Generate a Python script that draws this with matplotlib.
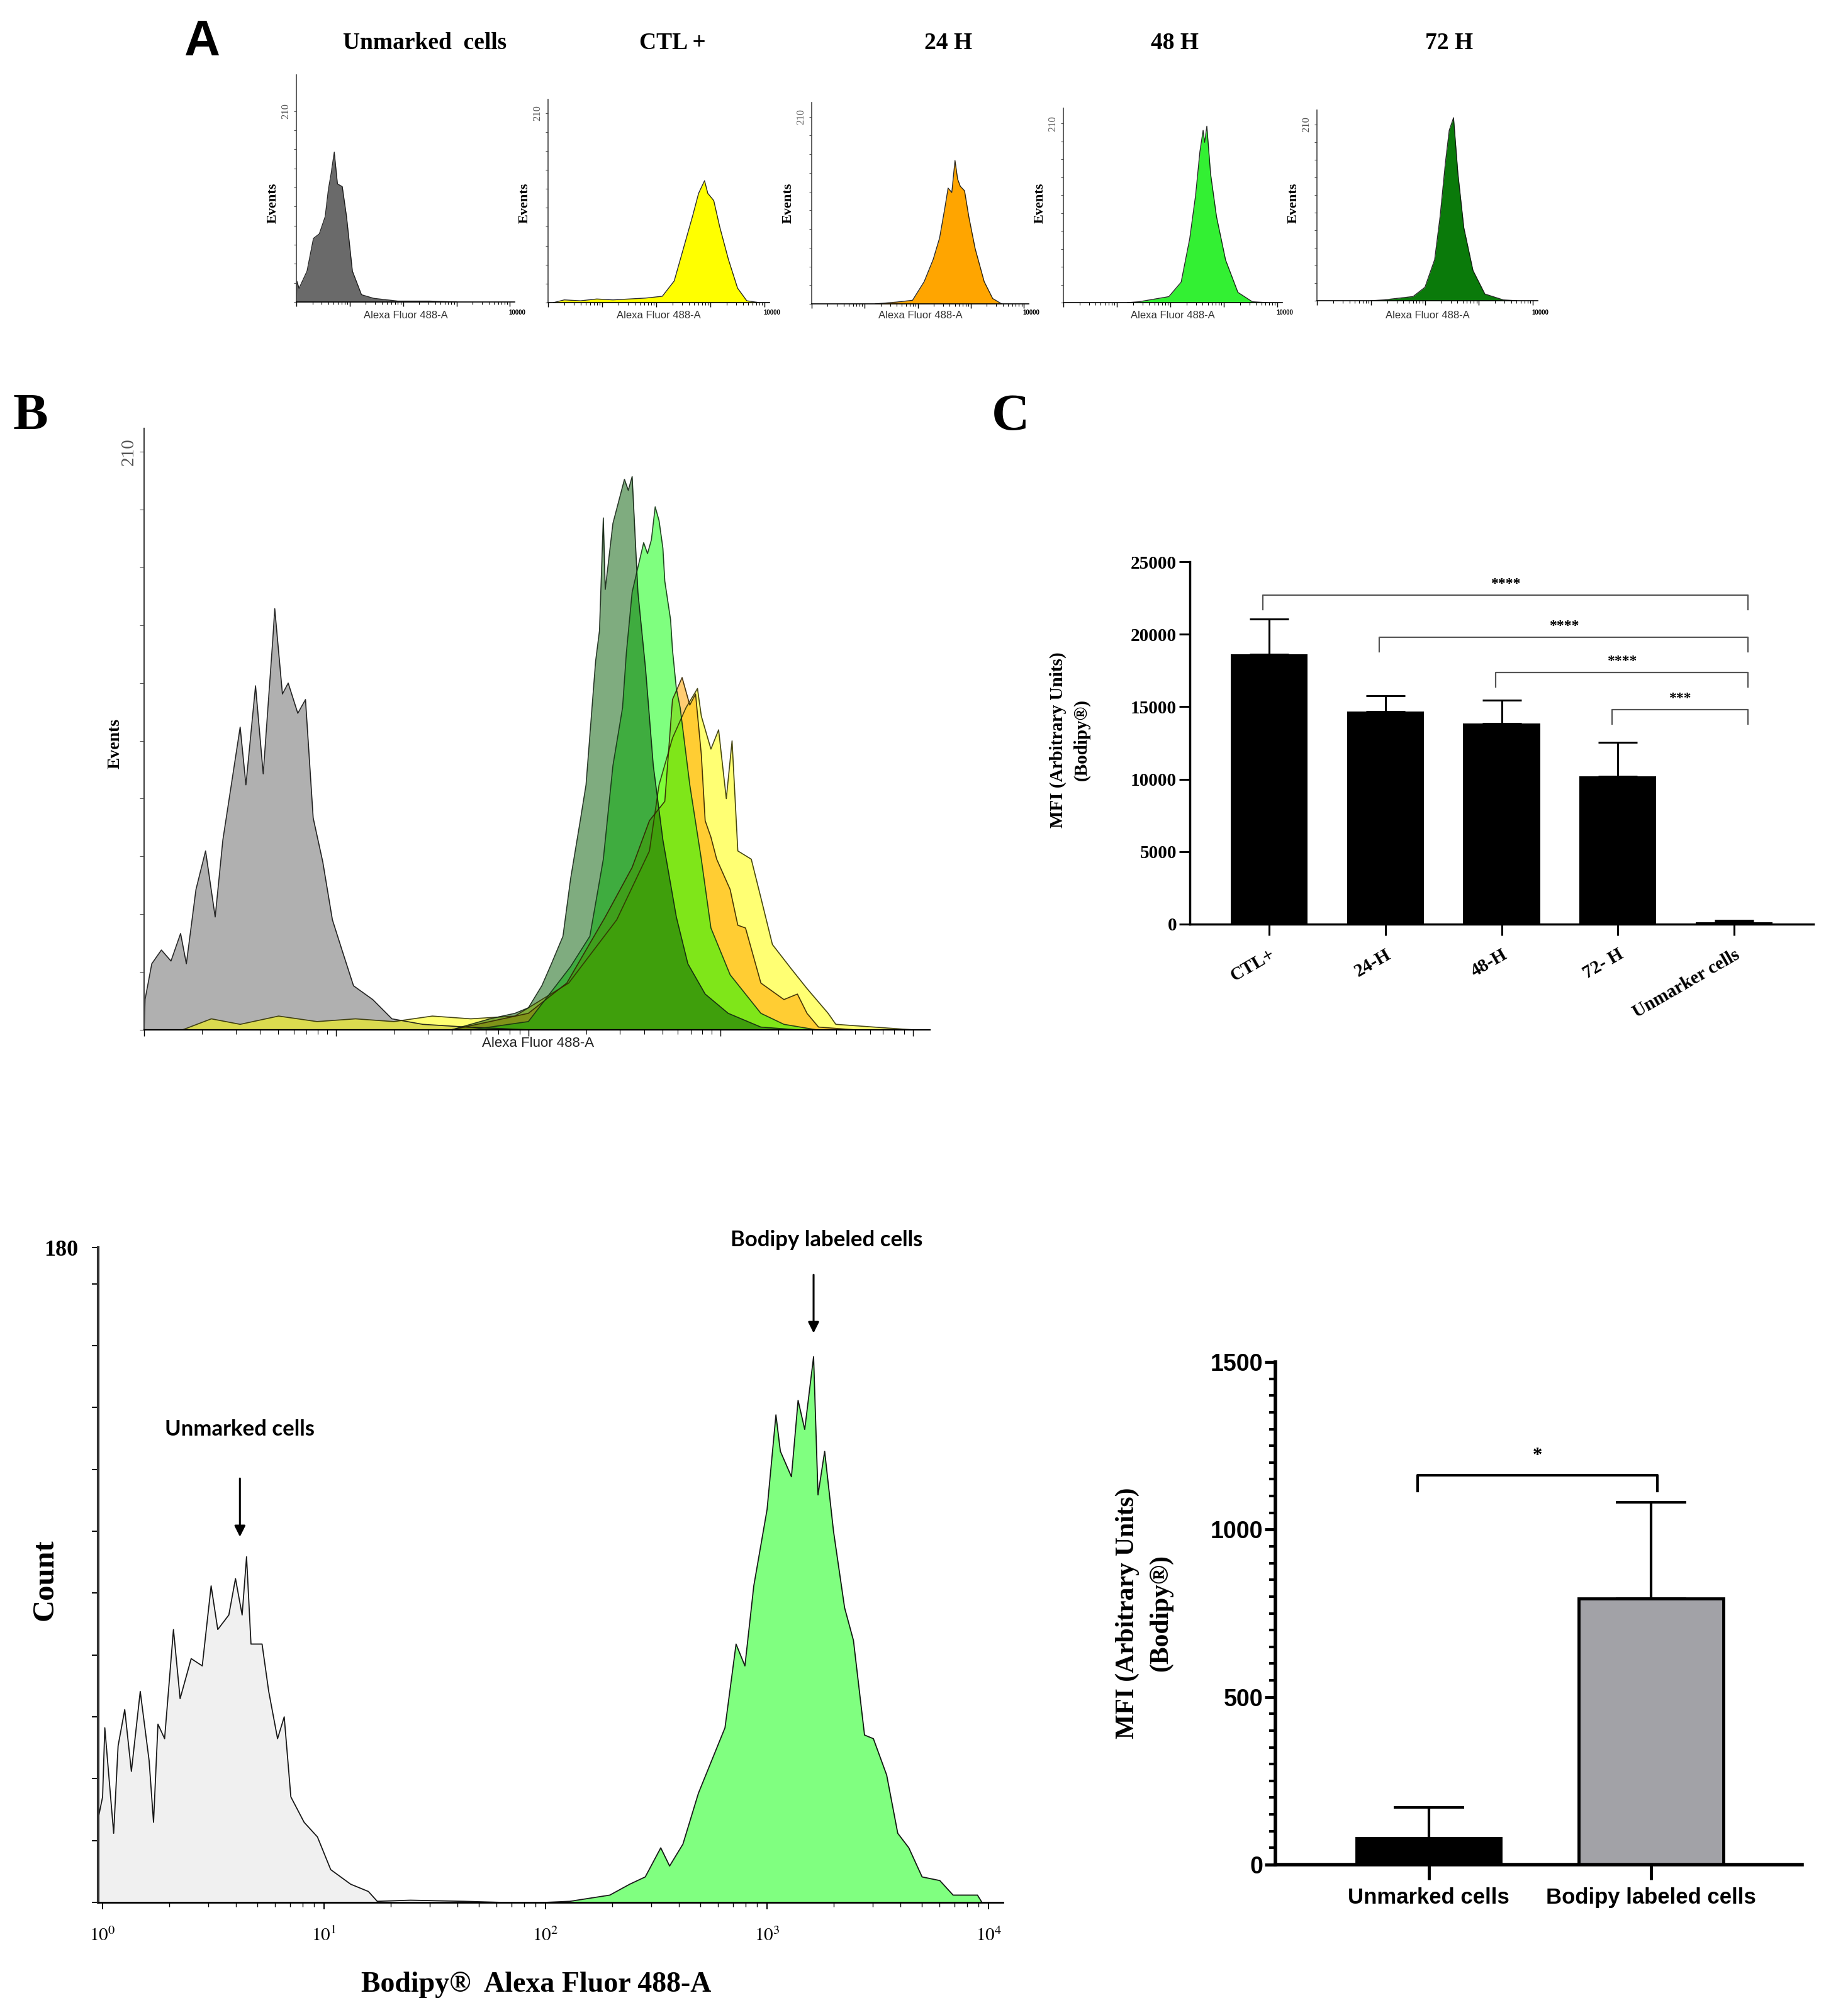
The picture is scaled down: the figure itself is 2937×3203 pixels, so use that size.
import numpy as np
import matplotlib
matplotlib.use('Agg')
import matplotlib.pyplot as plt
from matplotlib.ticker import LogLocator, NullFormatter, MultipleLocator

plt.rcParams['mathtext.fontset'] = 'stix'
SERIF = 'Liberation Serif'
SANS = 'Liberation Sans'

# ======================= DATA =======================
# Panel A: five single histograms (x = log10 fluorescence, y = events)
A_titles = ['Unmarked  cells', 'CTL +', '24 H', '48 H', '72 H']
A_colors = ['#6a6a6a', '#ffff00', '#ffa500', '#33f033', '#0a7a0a']
A_unm_x = [0.0, 0.01, 0.05, 0.09, 0.2, 0.32, 0.43, 0.54, 0.6, 0.65, 0.71, 0.77, 0.86, 0.94, 1.05, 1.22, 1.45, 1.9, 2.5, 3.0]
A_unm_y = [0, 23, 15, 20, 34, 70, 75, 94, 124, 141, 165, 130, 127, 94, 34, 8, 4, 1, 1, 0]
A_ctl_x = [0.1, 0.3, 0.6, 0.9, 1.2, 1.5, 1.8, 2.11, 2.33, 2.5, 2.67, 2.78, 2.89, 2.95, 3.06, 3.17, 3.33, 3.5, 3.67, 3.9]
A_ctl_y = [0, 3, 2, 4, 3, 4, 5, 7, 24, 60, 96, 121, 135, 121, 113, 84, 48, 16, 2, 0]
A_24_x = [1.2, 1.6, 1.9, 2.12, 2.29, 2.41, 2.51, 2.57, 2.64, 2.70, 2.75, 2.80, 2.88, 2.96, 3.08, 3.25, 3.41, 3.58]
A_24_y = [0, 2, 4, 25, 50, 74, 108, 130, 125, 161, 140, 132, 127, 98, 62, 25, 6, 0]
A_48_x = [1.2, 1.41, 1.97, 2.20, 2.36, 2.47, 2.55, 2.61, 2.64, 2.68, 2.75, 2.86, 3.03, 3.26, 3.53, 3.8]
A_48_y = [0, 1, 7, 24, 75, 126, 177, 202, 188, 207, 151, 101, 50, 12, 1, 0]
A_72_x = [1.0, 1.24, 1.78, 2.0, 2.18, 2.28, 2.38, 2.45, 2.53, 2.61, 2.72, 2.89, 3.11, 3.45, 3.7]
A_72_y = [0, 1, 5, 16, 49, 100, 165, 203, 218, 152, 87, 36, 8, 1, 0]

# Panel B: overlay of the five histograms
B_unm_x = [0.0, 0.005, 0.04, 0.09, 0.14, 0.19, 0.22, 0.27, 0.32, 0.37, 0.41, 0.50, 0.53, 0.58, 0.62, 0.67, 0.68, 0.72,
           0.75, 0.80, 0.84, 0.88, 0.93, 0.98, 1.03, 1.09, 1.19, 1.29, 1.45, 1.68, 2.0]
B_unm_y = [0, 11, 24, 29, 25, 35, 24, 51, 65, 41, 69, 110, 89, 125, 93, 142, 153, 122,
           126, 115, 120, 77, 61, 40, 29, 16, 11, 4, 2, 1, 0]
B_ctl_x = [0.2, 0.35, 0.5, 0.7, 0.9, 1.1, 1.3, 1.5, 1.7, 1.93, 2.21, 2.46, 2.63, 2.68, 2.75, 2.82, 2.88, 2.90, 2.95,
           2.99, 3.03, 3.06, 3.09, 3.16, 3.21, 3.27, 3.37, 3.45, 3.56, 3.60, 3.8, 4.0]
B_ctl_y = [0, 4, 2, 5, 3, 4, 3, 5, 4, 5, 17, 40, 65, 89, 106, 117, 124, 114, 102,
           109, 84, 105, 65, 62, 48, 31, 22, 15, 6, 2, 1, 0]
B_24_x = [1.6, 1.8, 2.0, 2.20, 2.40, 2.54, 2.63, 2.71, 2.75, 2.80, 2.84, 2.87, 2.90, 2.92, 2.95, 2.98, 3.05, 3.09,
          3.13, 3.21, 3.33, 3.40, 3.45, 3.51, 3.7]
B_24_y = [0, 3, 6, 17, 41, 59, 76, 83, 120, 128, 118, 122, 100, 76, 70, 62, 51, 38,
          37, 17, 11, 13, 6, 1, 0]
B_48_x = [1.7, 2.00, 2.22, 2.32, 2.39, 2.44, 2.49, 2.51, 2.54, 2.57, 2.60, 2.62, 2.64, 2.66, 2.68, 2.70, 2.71, 2.74,
          2.75, 2.77, 2.79, 2.84, 2.90, 2.95, 3.05, 3.21, 3.33, 3.5]
B_48_y = [0, 3, 23, 34, 62, 96, 117, 137, 159, 168, 177, 173, 178, 190, 185, 175, 163, 149,
          138, 124, 117, 89, 62, 37, 20, 6, 2, 0]
B_72_x = [1.6, 1.8, 1.93, 2.00, 2.07, 2.12, 2.18, 2.22, 2.27, 2.30, 2.35, 2.37, 2.39, 2.40, 2.44, 2.47, 2.50, 2.52,
          2.54, 2.57, 2.61, 2.65, 2.70, 2.77, 2.83, 2.92, 3.04, 3.21, 3.4]
B_72_y = [0, 4, 6, 8, 16, 24, 34, 55, 76, 89, 134, 145, 186, 160, 184, 192, 200, 196,
          201, 159, 131, 96, 69, 41, 24, 13, 6, 1, 0]

# Panel C: MFI bars
C_cats = ['CTL+', '24-H', '48-H', '72- H', 'Unmarker cells']
C_mean = [18600, 14650, 13850, 10200, 150]
C_err = [2450, 1100, 1600, 2350, 100]
C_sig_left = [0, 1, 2, 3]
C_sig_y = [22700, 19800, 17350, 14800]
C_sig_txt = ['****', '****', '****', '***']

# Bottom-left: Count histogram
L_unm_x = [-0.02, -0.02, 0.0, 0.01, 0.05, 0.07, 0.10, 0.13, 0.17, 0.21, 0.23, 0.25, 0.28, 0.32, 0.35, 0.40, 0.45, 0.49,
           0.52, 0.57, 0.60, 0.63, 0.65, 0.67, 0.72, 0.75, 0.79, 0.82, 0.85, 0.91, 0.97, 1.03, 1.12, 1.20, 1.24, 1.39,
           1.63, 1.8]
L_unm_y = [0, 23, 29, 48, 19, 43, 53, 36, 58, 39, 22, 49, 45, 75, 56, 67, 65, 87,
           75, 79, 89, 79, 95, 71, 71, 58, 45, 51, 29, 22, 18, 9, 5, 3, 0.3, 0.6,
           0.3, 0]
L_lab_x = [2.0, 2.11, 2.29, 2.38, 2.45, 2.52, 2.56, 2.62, 2.69, 2.75, 2.81, 2.86, 2.90, 2.94, 3.00, 3.04, 3.06, 3.11,
           3.14, 3.17, 3.21, 3.23, 3.26, 3.30, 3.35, 3.39, 3.44, 3.48, 3.54, 3.59, 3.64, 3.70, 3.78, 3.84, 3.95, 3.97]
L_lab_y = [0, 0.3, 2, 5, 7, 15, 10, 16, 30, 39, 48, 71, 65, 87, 108, 134, 124, 117,
           138, 130, 150, 112, 124, 102, 81, 72, 46, 45, 35, 19, 15, 7, 6, 2, 2, 0]
L_ann_txt = ['Unmarked cells', 'Bodipy labeled cells']
L_ann_x = [0.62, 3.21]          # log10 position of the arrows
L_ann_tip = [100, 156]
L_ann_tail = [117, 173]
L_ann_label = [130, 182]

# Bottom-right: MFI bars
R_cats = ['Unmarked cells', 'Bodipy labeled cells']
R_mean = [78, 795]
R_err = [93, 287]
R_colors = ['#000000', '#a2a2a7']
R_sig_y = 1162
R_sig_txt = '*'

# ======================= FIGURE =======================
W, H = 2937, 3203
fig = plt.figure(figsize=(W / 100, H / 100), dpi=100)


def add_ax(x0, y0, x1, y1):
    return fig.add_axes([x0 / W, 1 - y1 / H, (x1 - x0) / W, (y1 - y0) / H])


def ftext(x, y, s, **kw):
    fig.text(x / W, 1 - y / H, s, **kw)


def flow_style(ax, ytop, xmax_dec, lw=1.2, lab_size=13, tick_len=4):
    ax.set_xscale('log')
    ax.set_xlim(1, 10 ** xmax_dec)
    ax.set_ylim(0, ytop)
    for s in ['top', 'right']:
        ax.spines[s].set_visible(False)
    ax.spines['left'].set_color('#444444')
    ax.spines['left'].set_linewidth(lw)
    ax.spines['bottom'].set_linewidth(lw)
    ax.xaxis.set_major_locator(LogLocator(base=10, numticks=10))
    ax.xaxis.set_minor_locator(LogLocator(base=10, subs=np.arange(2, 10), numticks=50))
    ax.xaxis.set_major_formatter(NullFormatter())
    ax.xaxis.set_minor_formatter(NullFormatter())
    ax.tick_params(axis='x', which='major', length=tick_len + 2, width=1, direction='out')
    ax.tick_params(axis='x', which='minor', length=tick_len, width=0.8, direction='out')
    yt = list(range(0, 211, 21))
    ax.set_yticks(yt)
    ax.set_yticklabels(['' if v != 210 else '210' for v in yt], rotation=90, va='center',
                       fontsize=lab_size, family=SERIF, color='#555555')
    ax.tick_params(axis='y', length=tick_len, width=0.8, color='#555555', pad=3)
    ax.patch.set_alpha(0)


def draw_hist(ax, xs, ys, color, alpha=1.0, lw=1.0, ec='#111111'):
    xv = 10 ** np.asarray(xs, dtype=float)
    yv = np.asarray(ys, dtype=float)
    ax.fill_between(xv, yv, 0, color=color, alpha=alpha, lw=0)
    ax.plot(xv, yv, color=ec, lw=lw, alpha=0.9)


# ----------------- Panel A -----------------
ftext(321, 67, 'A', family=SANS, weight='bold', fontsize=57, ha='center', va='center')
A_title_x = [675, 1069, 1507, 1867, 2303]
A_boxes = [(471, 119, 818, 480), (871, 158, 1223, 481), (1290, 163, 1635, 483),
           (1690, 172, 2038, 481), (2093, 175, 2444, 478)]
A_ytop = [250, 225, 226, 228, 227]
A_xs = [A_unm_x, A_ctl_x, A_24_x, A_48_x, A_72_x]
A_ys = [A_unm_y, A_ctl_y, A_24_y, A_48_y, A_72_y]
for i in range(5):
    ftext(A_title_x[i], 69, A_titles[i], family=SERIF, weight='bold', fontsize=27, ha='center', va='center')
    x0, y0, x1, y1 = A_boxes[i]
    ax = add_ax(x0, y0, x1, y1)
    flow_style(ax, A_ytop[i], 4.09, lw=1.2, lab_size=12, tick_len=3)
    draw_hist(ax, A_xs[i], A_ys[i], A_colors[i], lw=1.0)
    ftext(x0 - 37, 323, 'Events', family=SERIF, weight='bold', fontsize=16, rotation=90,
          ha='center', va='center')
    ftext((x0 + x1) / 2, 502, 'Alexa Fluor 488-A', family=SANS, fontsize=12, color='#333333',
          ha='center', va='center')
    ftext(x1 + 4, 497, '10000', family=SANS, fontsize=7, weight='bold', ha='center', va='center')

# ----------------- Panel B -----------------
ftext(48, 663, 'B', family=SERIF, weight='bold', fontsize=60, ha='center', va='center')
axB = add_ax(229, 681, 1478, 1637)
flow_style(axB, 218.5, 4.09, lw=1.6, lab_size=21, tick_len=5)
draw_hist(axB, B_unm_x, B_unm_y, '#b0b0b0', alpha=1.0, lw=1.2)
draw_hist(axB, B_ctl_x, B_ctl_y, '#ffff00', alpha=0.55, lw=1.2, ec='#333300')
draw_hist(axB, B_24_x, B_24_y, '#ffa500', alpha=0.55, lw=1.2, ec='#332200')
draw_hist(axB, B_48_x, B_48_y, '#00ff00', alpha=0.5, lw=1.2, ec='#113311')
draw_hist(axB, B_72_x, B_72_y, '#005a00', alpha=0.5, lw=1.2, ec='#112211')
ftext(183, 1182, 'Events', family=SERIF, weight='bold', fontsize=20, rotation=90, ha='center', va='center')
ftext(855, 1659, 'Alexa Fluor 488-A', family=SANS, fontsize=16, color='#222222', ha='center', va='center')

# ----------------- Panel C -----------------
ftext(1606, 663, 'C', family=SERIF, weight='bold', fontsize=60, ha='center', va='center')
axC = add_ax(1891, 893, 2882, 1469)
xc = np.arange(len(C_cats))
axC.bar(xc, C_mean, width=0.66, color='black', zorder=2)
axC.errorbar(xc, C_mean, yerr=[np.zeros(len(C_err)), C_err], fmt='none', ecolor='black',
             elinewidth=2.2, capsize=22, capthick=2.2, zorder=1)
axC.set_xlim(-0.68, 4.68)
axC.set_ylim(0, 25000)
axC.set_yticks(np.arange(0, 25001, 5000))
axC.set_yticklabels([str(v) for v in range(0, 25001, 5000)], family=SERIF, weight='bold', fontsize=21)
axC.set_xticks(xc)
axC.set_xticklabels(C_cats, family=SERIF, weight='bold', fontsize=21, rotation=30, ha='right',
                    va='top', rotation_mode='anchor')
for s in ['top', 'right']:
    axC.spines[s].set_visible(False)
axC.spines['left'].set_linewidth(2.5)
axC.spines['bottom'].set_linewidth(2.5)
axC.tick_params(axis='y', length=12, width=2.2, pad=3)
axC.tick_params(axis='x', length=13, width=2.2, pad=12)
leg = 1000
for li, yv, tx in zip(C_sig_left, C_sig_y, C_sig_txt):
    xl = li - 0.05
    xr = 4 + 0.12
    axC.plot([xl, xl, xr, xr], [yv - leg, yv, yv, yv - leg], color='#555555', lw=1.6, clip_on=False)
    axC.text((xl + xr) / 2, yv + 300, tx, family=SERIF, fontsize=17, weight='bold', ha='center', va='bottom')
ftext(1700, 1176, 'MFI (Arbitrary Units)\n(Bodipy®)', family=SERIF, weight='bold', fontsize=21,
      rotation=90, ha='center', va='center', multialignment='center', linespacing=1.5)

# ----------------- Bottom-left: Count histogram -----------------
axL = add_ax(156, 1983, 1594, 3024)
axL.set_xscale('log')
axL.set_xlim(10 ** -0.02, 10 ** 4.065)
axL.set_ylim(0, 180)
for s in ['top', 'right']:
    axL.spines[s].set_visible(False)
axL.spines['left'].set_linewidth(3.0)
axL.spines['left'].set_color('#333333')
axL.spines['bottom'].set_linewidth(2.0)
draw_hist(axL, L_unm_x, L_unm_y, '#f0f0f0', lw=1.3, ec='#000000')
draw_hist(axL, L_lab_x, L_lab_y, '#80ff80', lw=1.3, ec='#000000')
axL.xaxis.set_major_locator(LogLocator(base=10, numticks=10))
axL.xaxis.set_minor_locator(LogLocator(base=10, subs=np.arange(2, 10), numticks=50))
axL.xaxis.set_minor_formatter(NullFormatter())
axL.set_xticks([1, 10, 100, 1000, 10000])
axL.set_xticklabels(['$10^{0}$', '$10^{1}$', '$10^{2}$', '$10^{3}$', '$10^{4}$'], fontsize=21)
axL.tick_params(axis='x', which='major', length=8, width=1.4, pad=20)
axL.tick_params(axis='x', which='minor', length=5, width=1.0)
ytl = list(range(0, 171, 17)) + [180]
axL.set_yticks(ytl)
axL.set_yticklabels(['' if v != 180 else '180' for v in ytl], family=SERIF, weight='bold', fontsize=26)
axL.tick_params(axis='y', length=7, width=1.4, pad=16)
for t, xa, tip, tail, lab in zip(L_ann_txt, L_ann_x, L_ann_tip, L_ann_tail, L_ann_label):
    axL.annotate('', xy=(10 ** xa, tip), xytext=(10 ** xa, tail),
                 arrowprops=dict(arrowstyle='-|>', color='black', lw=2.2, mutation_scale=26),
                 annotation_clip=False)
    axL.text(10 ** (xa + (0.06 if lab > 180 else 0.0)), lab, t, family='Lato', weight='bold', fontsize=25,
             ha='center', va='center', clip_on=False)
ftext(72, 2511, 'Count', family=SERIF, weight='bold', fontsize=35, rotation=90, ha='center', va='center')
ftext(852, 3155, 'Bodipy®  Alexa Fluor 488-A', family=SERIF, weight='bold', fontsize=33,
      ha='center', va='center')

# ----------------- Bottom-right: MFI bars -----------------
axR = add_ax(2027, 2165, 2864, 2964)
xr_ = np.arange(len(R_cats))
axR.bar(xr_, R_mean, width=0.65, color=R_colors, edgecolor='black', linewidth=3.5, zorder=2)
axR.errorbar(xr_, R_mean, yerr=[np.zeros(len(R_err)), R_err], fmt='none', ecolor='black',
             elinewidth=3, capsize=40, capthick=3, zorder=1)
axR.set_xlim(-0.69, 1.68)
axR.set_ylim(0, 1500)
axR.set_yticks([0, 500, 1000, 1500])
axR.set_yticklabels(['0', '500', '1000', '1500'], family=SANS, weight='bold', fontsize=27)
axR.yaxis.set_minor_locator(MultipleLocator(50))
axR.set_xticks(xr_)
axR.set_xticklabels(R_cats, family=SANS, weight='bold', fontsize=25)
for s in ['top', 'right']:
    axR.spines[s].set_visible(False)
axR.spines['left'].set_linewidth(4)
axR.spines['bottom'].set_linewidth(4)
axR.tick_params(axis='y', which='major', length=12, width=3.5, pad=2)
axR.tick_params(axis='y', which='minor', length=7, width=3)
axR.tick_params(axis='x', length=17, width=3.5, pad=9)
rl, rr = -0.05, 1.03
axR.plot([rl, rl, rr, rr], [R_sig_y - 47, R_sig_y, R_sig_y, R_sig_y - 47], color='black', lw=3, clip_on=False)
axR.text((rl + rr) / 2, R_sig_y + 30, R_sig_txt, family=SERIF, fontsize=22, weight='bold', ha='center', va='bottom')
ftext(1818, 2564, 'MFI (Arbitrary Units)\n(Bodipy®)', family=SERIF, weight='bold', fontsize=30,
      rotation=90, ha='center', va='center', multialignment='center', linespacing=1.5)

fig.savefig('out.png', dpi=100)
